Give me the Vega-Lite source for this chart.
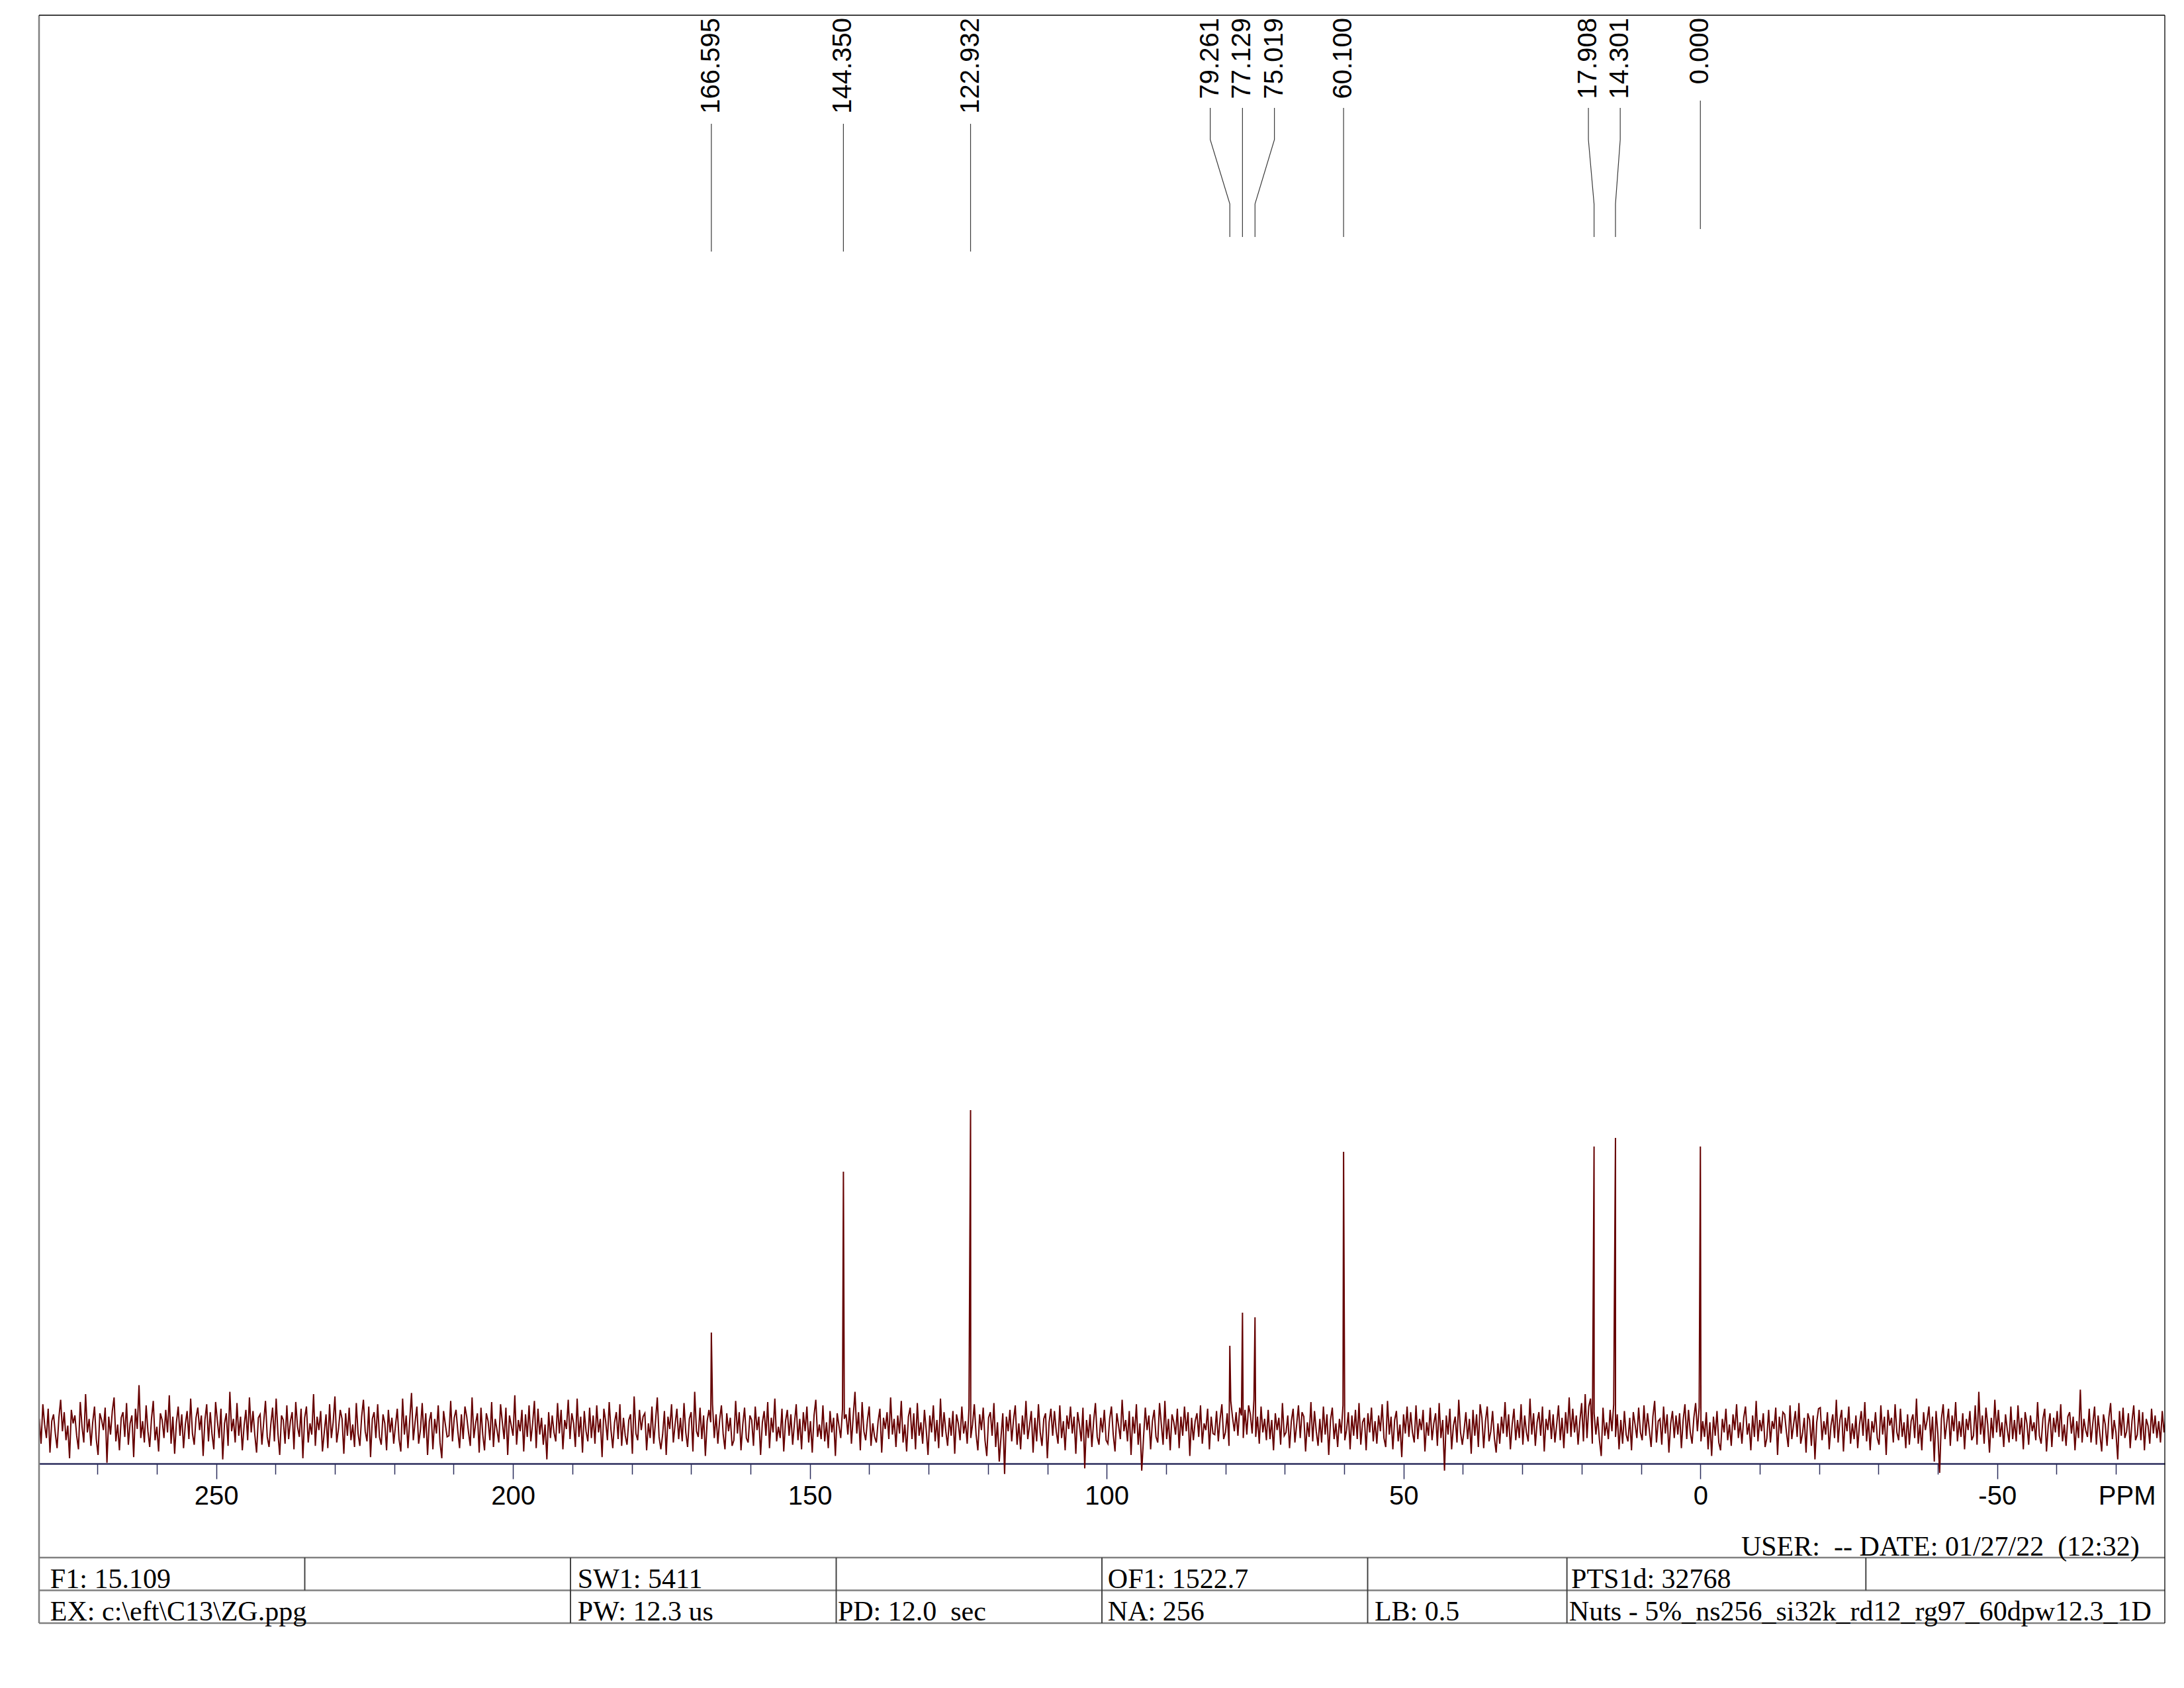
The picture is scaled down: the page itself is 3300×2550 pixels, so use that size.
{
"$schema":"https://vega.github.io/schema/vega-lite/v6.json",
"width":3212,"height":2429,
"autosize":{"type":"none"},
"padding":{"left":59,"top":23,"right":29,"bottom":98},
"background":"#ffffff",
"config":{"view":{"stroke":null}},
"datasets":{
"spec":[
{"x":279.8,"y":8},{"x":279.5,"y":-14},{"x":279.2,"y":21},{"x":278.9,"y":3},{"x":278.6,"y":-9},{"x":278.3,"y":17},{"x":278,"y":-22},{"x":277.7,"y":6},{"x":277.4,"y":12},{"x":277.1,"y":-5},
{"x":276.8,"y":-18},{"x":276.5,"y":9},{"x":276.2,"y":25},{"x":275.9,"y":-3},{"x":275.6,"y":14},{"x":275.3,"y":-11},{"x":275,"y":2},{"x":274.7,"y":-27},{"x":274.4,"y":16},{"x":274.1,"y":4},
{"x":273.8,"y":11},{"x":273.5,"y":-7},{"x":273.2,"y":-19},{"x":272.9,"y":23},{"x":272.6,"y":1},{"x":272.3,"y":-13},{"x":272,"y":30},{"x":271.7,"y":-4},{"x":271.4,"y":8},{"x":271.1,"y":-16},
{"x":270.8,"y":5},{"x":270.5,"y":19},{"x":270.2,"y":-10},{"x":269.9,"y":-24},{"x":269.6,"y":13},{"x":269.3,"y":7},{"x":269,"y":-2},{"x":268.7,"y":18},{"x":268.4,"y":-31},{"x":268.1,"y":10},
{"x":267.8,"y":-6},{"x":267.5,"y":15},{"x":267.2,"y":27},{"x":266.9,"y":-12},{"x":266.6,"y":3},{"x":266.3,"y":-20},{"x":266,"y":9},{"x":265.7,"y":14},{"x":265.4,"y":-8},{"x":265.1,"y":22},
{"x":264.8,"y":-15},{"x":264.5,"y":4},{"x":264.2,"y":11},{"x":263.9,"y":-26},{"x":263.6,"y":17},{"x":263.3,"y":-1},{"x":263,"y":38},{"x":262.7,"y":-9},{"x":262.4,"y":6},{"x":262.1,"y":-13},
{"x":261.8,"y":20},{"x":261.5,"y":-3},{"x":261.2,"y":-17},{"x":260.9,"y":8},{"x":260.6,"y":24},{"x":260.3,"y":-11},{"x":260,"y":1},{"x":259.7,"y":-21},{"x":259.4,"y":13},{"x":259.1,"y":7},
{"x":258.8,"y":-9},{"x":258.5,"y":16},{"x":258.2,"y":-4},{"x":257.9,"y":29},{"x":257.6,"y":-14},{"x":257.3,"y":10},{"x":257,"y":-23},{"x":256.7,"y":5},{"x":256.4,"y":19},{"x":256.1,"y":-7},
{"x":255.8,"y":12},{"x":255.5,"y":-18},{"x":255.2,"y":3},{"x":254.9,"y":15},{"x":254.6,"y":-10},{"x":254.3,"y":26},{"x":254,"y":-5},{"x":253.7,"y":-15},{"x":253.4,"y":9},{"x":253.1,"y":18},
{"x":252.8,"y":-2},{"x":252.5,"y":11},{"x":252.2,"y":-25},{"x":251.9,"y":7},{"x":251.6,"y":21},{"x":251.3,"y":-12},{"x":251,"y":14},{"x":250.7,"y":-6},{"x":250.4,"y":-19},{"x":250.1,"y":23},
{"x":249.8,"y":6},{"x":249.5,"y":-9},{"x":249.2,"y":17},{"x":248.9,"y":-28},{"x":248.6,"y":4},{"x":248.3,"y":13},{"x":248,"y":-16},{"x":247.7,"y":32},{"x":247.4,"y":-3},{"x":247.1,"y":8},
{"x":246.8,"y":-13},{"x":246.5,"y":22},{"x":246.2,"y":-7},{"x":245.9,"y":10},{"x":245.6,"y":-20},{"x":245.3,"y":2},{"x":245,"y":16},{"x":244.7,"y":-11},{"x":244.4,"y":27},{"x":244.1,"y":-4},
{"x":243.8,"y":15},{"x":243.5,"y":-6},{"x":243.2,"y":-22},{"x":242.9,"y":9},{"x":242.6,"y":12},{"x":242.3,"y":-15},{"x":242,"y":5},{"x":241.7,"y":24},{"x":241.4,"y":-8},{"x":241.1,"y":-17},
{"x":240.8,"y":3},{"x":240.5,"y":18},{"x":240.2,"y":-12},{"x":239.9,"y":26},{"x":239.6,"y":-5},{"x":239.3,"y":-24},{"x":239,"y":11},{"x":238.7,"y":7},{"x":238.4,"y":-14},{"x":238.1,"y":20},
{"x":237.8,"y":-10},{"x":237.5,"y":6},{"x":237.2,"y":14},{"x":236.9,"y":-19},{"x":236.6,"y":23},{"x":236.3,"y":1},{"x":236,"y":-8},{"x":235.7,"y":17},{"x":235.4,"y":-27},{"x":235.1,"y":9},
{"x":234.8,"y":19},{"x":234.5,"y":-13},{"x":234.2,"y":4},{"x":233.9,"y":-6},{"x":233.6,"y":30},{"x":233.3,"y":-16},{"x":233,"y":10},{"x":232.7,"y":-2},{"x":232.4,"y":15},{"x":232.1,"y":-21},
{"x":231.8,"y":-4},{"x":231.5,"y":12},{"x":231.2,"y":-18},{"x":230.9,"y":21},{"x":230.6,"y":-9},{"x":230.3,"y":5},{"x":230,"y":28},{"x":229.7,"y":-13},{"x":229.4,"y":-1},{"x":229.1,"y":16},
{"x":228.8,"y":8},{"x":228.5,"y":-23},{"x":228.2,"y":13},{"x":227.9,"y":-7},{"x":227.6,"y":18},{"x":227.3,"y":-11},{"x":227,"y":3},{"x":226.7,"y":-17},{"x":226.4,"y":22},{"x":226.1,"y":-5},
{"x":225.8,"y":-16},{"x":225.5,"y":10},{"x":225.2,"y":25},{"x":224.9,"y":-3},{"x":224.6,"y":-12},{"x":224.3,"y":19},{"x":224,"y":-26},{"x":223.7,"y":8},{"x":223.4,"y":14},{"x":223.1,"y":-9},
{"x":222.8,"y":21},{"x":222.5,"y":-8},{"x":222.2,"y":-15},{"x":221.9,"y":12},{"x":221.6,"y":4},{"x":221.3,"y":-20},{"x":221,"y":16},{"x":220.7,"y":-4},{"x":220.4,"y":9},{"x":220.1,"y":-14},
{"x":219.8,"y":2},{"x":219.5,"y":17},{"x":219.2,"y":-10},{"x":218.9,"y":-21},{"x":218.6,"y":26},{"x":218.3,"y":-6},{"x":218,"y":11},{"x":217.7,"y":-18},{"x":217.4,"y":7},{"x":217.1,"y":31},
{"x":216.8,"y":-11},{"x":216.5,"y":5},{"x":216.2,"y":19},{"x":215.9,"y":-14},{"x":215.6,"y":-2},{"x":215.3,"y":22},{"x":215,"y":-9},{"x":214.7,"y":13},{"x":214.4,"y":-24},{"x":214.1,"y":6},
{"x":213.8,"y":14},{"x":213.5,"y":-19},{"x":213.2,"y":8},{"x":212.9,"y":-5},{"x":212.6,"y":20},{"x":212.3,"y":-13},{"x":212,"y":-27},{"x":211.7,"y":15},{"x":211.4,"y":3},{"x":211.1,"y":-8},
{"x":210.8,"y":-7},{"x":210.5,"y":24},{"x":210.2,"y":-12},{"x":209.9,"y":9},{"x":209.6,"y":16},{"x":209.3,"y":-3},{"x":209,"y":-18},{"x":208.7,"y":12},{"x":208.4,"y":-10},{"x":208.1,"y":19},
{"x":207.8,"y":10},{"x":207.5,"y":-4},{"x":207.2,"y":-16},{"x":206.9,"y":27},{"x":206.6,"y":-9},{"x":206.3,"y":4},{"x":206,"y":13},{"x":205.7,"y":-22},{"x":205.4,"y":18},{"x":205.1,"y":-6},
{"x":204.8,"y":-20},{"x":204.5,"y":13},{"x":204.2,"y":6},{"x":203.9,"y":-11},{"x":203.6,"y":23},{"x":203.3,"y":-17},{"x":203,"y":8},{"x":202.7,"y":-2},{"x":202.4,"y":-13},{"x":202.1,"y":21},
{"x":201.8,"y":5},{"x":201.5,"y":-10},{"x":201.2,"y":18},{"x":200.9,"y":-24},{"x":200.6,"y":11},{"x":200.3,"y":2},{"x":200,"y":-7},{"x":199.7,"y":29},{"x":199.4,"y":-15},{"x":199.1,"y":7},
{"x":198.8,"y":-3},{"x":198.5,"y":16},{"x":198.2,"y":-21},{"x":197.9,"y":12},{"x":197.6,"y":-8},{"x":197.3,"y":20},{"x":197,"y":-12},{"x":196.7,"y":4},{"x":196.4,"y":24},{"x":196.1,"y":-18},
{"x":195.8,"y":17},{"x":195.5,"y":-6},{"x":195.2,"y":9},{"x":194.9,"y":-15},{"x":194.6,"y":3},{"x":194.3,"y":-28},{"x":194,"y":14},{"x":193.7,"y":-9},{"x":193.4,"y":11},{"x":193.1,"y":-4},
{"x":192.8,"y":-12},{"x":192.5,"y":22},{"x":192.2,"y":-5},{"x":191.9,"y":16},{"x":191.6,"y":-19},{"x":191.3,"y":7},{"x":191,"y":-1},{"x":190.7,"y":25},{"x":190.4,"y":-10},{"x":190.1,"y":13},
{"x":189.8,"y":4},{"x":189.5,"y":-17},{"x":189.2,"y":26},{"x":188.9,"y":-8},{"x":188.6,"y":10},{"x":188.3,"y":-22},{"x":188,"y":15},{"x":187.7,"y":-3},{"x":187.4,"y":-12},{"x":187.1,"y":18},
{"x":186.8,"y":-9},{"x":186.5,"y":11},{"x":186.2,"y":-14},{"x":185.9,"y":20},{"x":185.6,"y":-4},{"x":185.3,"y":8},{"x":185,"y":-26},{"x":184.7,"y":17},{"x":184.4,"y":6},{"x":184.1,"y":-11},
{"x":183.8,"y":23},{"x":183.5,"y":-2},{"x":183.2,"y":-18},{"x":182.9,"y":5},{"x":182.6,"y":14},{"x":182.3,"y":-10},{"x":182,"y":21},{"x":181.7,"y":-16},{"x":181.4,"y":9},{"x":181.1,"y":-7},
{"x":180.8,"y":-15},{"x":180.5,"y":7},{"x":180.2,"y":12},{"x":179.9,"y":-23},{"x":179.6,"y":28},{"x":179.3,"y":-5},{"x":179,"y":-11},{"x":178.7,"y":16},{"x":178.4,"y":-2},{"x":178.1,"y":10},
{"x":177.8,"y":13},{"x":177.5,"y":-20},{"x":177.2,"y":4},{"x":176.9,"y":-9},{"x":176.6,"y":19},{"x":176.3,"y":-14},{"x":176,"y":6},{"x":175.7,"y":27},{"x":175.4,"y":-8},{"x":175.1,"y":-19},
{"x":174.8,"y":-6},{"x":174.5,"y":15},{"x":174.2,"y":-24},{"x":173.9,"y":10},{"x":173.6,"y":-1},{"x":173.3,"y":21},{"x":173,"y":-13},{"x":172.7,"y":3},{"x":172.4,"y":17},{"x":172.1,"y":-10},
{"x":171.8,"y":9},{"x":171.5,"y":-12},{"x":171.2,"y":22},{"x":170.9,"y":-4},{"x":170.6,"y":-17},{"x":170.3,"y":8},{"x":170,"y":14},{"x":169.7,"y":-21},{"x":169.4,"y":32},{"x":169.1,"y":-3},
{"x":168.8,"y":-8},{"x":168.5,"y":18},{"x":168.2,"y":-10},{"x":167.9,"y":11},{"x":167.6,"y":-25},{"x":167.3,"y":6},{"x":167,"y":16},{"x":166.7,"y":5},{"x":166.4,"y":21},{"x":166.1,"y":-9},
{"x":165.8,"y":12},{"x":165.5,"y":-14},{"x":165.2,"y":7},{"x":164.9,"y":20},{"x":164.6,"y":-6},{"x":164.3,"y":-19},{"x":164,"y":13},{"x":163.7,"y":-3},{"x":163.4,"y":9},{"x":163.1,"y":-16},
{"x":162.8,"y":-11},{"x":162.5,"y":24},{"x":162.2,"y":-5},{"x":161.9,"y":14},{"x":161.6,"y":-20},{"x":161.3,"y":3},{"x":161,"y":18},{"x":160.7,"y":-9},{"x":160.4,"y":-13},{"x":160.1,"y":11},
{"x":159.8,"y":7},{"x":159.5,"y":-16},{"x":159.2,"y":19},{"x":158.9,"y":-2},{"x":158.6,"y":10},{"x":158.3,"y":-24},{"x":158,"y":5},{"x":157.7,"y":15},{"x":157.4,"y":-7},{"x":157.1,"y":23},
{"x":156.8,"y":-18},{"x":156.5,"y":9},{"x":156.2,"y":-4},{"x":155.9,"y":26},{"x":155.6,"y":-12},{"x":155.3,"y":1},{"x":155,"y":-9},{"x":154.7,"y":17},{"x":154.4,"y":-21},{"x":154.1,"y":6},
{"x":153.8,"y":16},{"x":153.5,"y":-7},{"x":153.2,"y":12},{"x":152.9,"y":-15},{"x":152.6,"y":4},{"x":152.3,"y":21},{"x":152,"y":-11},{"x":151.7,"y":8},{"x":151.4,"y":-19},{"x":151.1,"y":14},
{"x":150.8,"y":-3},{"x":150.5,"y":19},{"x":150.2,"y":-13},{"x":149.9,"y":6},{"x":149.6,"y":-22},{"x":149.3,"y":11},{"x":149,"y":25},{"x":148.7,"y":-8},{"x":148.4,"y":3},{"x":148.1,"y":-10},
{"x":147.8,"y":20},{"x":147.5,"y":-12},{"x":147.2,"y":5},{"x":146.9,"y":-18},{"x":146.6,"y":15},{"x":146.3,"y":-4},{"x":146,"y":9},{"x":145.7,"y":-25},{"x":145.4,"y":13},{"x":145.1,"y":2},
{"x":144.8,"y":-9},{"x":144.5,"y":17},{"x":144.2,"y":8},{"x":143.9,"y":12},{"x":143.6,"y":-6},{"x":143.3,"y":18},{"x":143,"y":-14},{"x":142.7,"y":10},{"x":142.4,"y":32},{"x":142.1,"y":-5},
{"x":141.8,"y":14},{"x":141.5,"y":-20},{"x":141.2,"y":23},{"x":140.9,"y":-3},{"x":140.6,"y":-11},{"x":140.3,"y":7},{"x":140,"y":19},{"x":139.7,"y":-16},{"x":139.4,"y":4},{"x":139.1,"y":-8},
{"x":138.8,"y":-13},{"x":138.5,"y":6},{"x":138.2,"y":17},{"x":137.9,"y":-22},{"x":137.6,"y":9},{"x":137.3,"y":-1},{"x":137,"y":14},{"x":136.7,"y":-10},{"x":136.4,"y":27},{"x":136.1,"y":-6},
{"x":135.8,"y":8},{"x":135.5,"y":-17},{"x":135.2,"y":11},{"x":134.9,"y":-5},{"x":134.6,"y":24},{"x":134.3,"y":-13},{"x":134,"y":3},{"x":133.7,"y":-21},{"x":133.4,"y":10},{"x":133.1,"y":18},
{"x":132.8,"y":-10},{"x":132.5,"y":13},{"x":132.2,"y":-19},{"x":131.9,"y":22},{"x":131.6,"y":-7},{"x":131.3,"y":5},{"x":131,"y":-14},{"x":130.7,"y":16},{"x":130.4,"y":-2},{"x":130.1,"y":-24},
{"x":129.8,"y":11},{"x":129.5,"y":-4},{"x":129.2,"y":20},{"x":128.9,"y":-12},{"x":128.6,"y":7},{"x":128.3,"y":-18},{"x":128,"y":26},{"x":127.7,"y":-8},{"x":127.4,"y":14},{"x":127.1,"y":-3},
{"x":126.8,"y":-16},{"x":126.5,"y":9},{"x":126.2,"y":-7},{"x":125.9,"y":15},{"x":125.6,"y":-23},{"x":125.3,"y":12},{"x":125,"y":4},{"x":124.7,"y":-11},{"x":124.4,"y":19},{"x":124.1,"y":-5},
{"x":123.8,"y":6},{"x":123.5,"y":-14},{"x":123.2,"y":17},{"x":122.9,"y":-9},{"x":122.6,"y":3},{"x":122.3,"y":21},{"x":122,"y":-6},{"x":121.7,"y":-20},{"x":121.4,"y":12},{"x":121.1,"y":-2},
{"x":120.8,"y":18},{"x":120.5,"y":-11},{"x":120.2,"y":-25},{"x":119.9,"y":9},{"x":119.6,"y":14},{"x":119.3,"y":-7},{"x":119,"y":22},{"x":118.7,"y":-17},{"x":118.4,"y":5},{"x":118.1,"y":-30},
{"x":117.8,"y":-8},{"x":117.5,"y":13},{"x":117.2,"y":-41},{"x":116.9,"y":10},{"x":116.6,"y":-3},{"x":116.3,"y":16},{"x":116,"y":-12},{"x":115.7,"y":7},{"x":115.4,"y":20},{"x":115.1,"y":-15},
{"x":114.8,"y":4},{"x":114.5,"y":-19},{"x":114.2,"y":11},{"x":113.9,"y":-6},{"x":113.6,"y":24},{"x":113.3,"y":-10},{"x":113,"y":2},{"x":112.7,"y":15},{"x":112.4,"y":-22},{"x":112.1,"y":9},
{"x":111.8,"y":-12},{"x":111.5,"y":21},{"x":111.2,"y":-4},{"x":110.9,"y":-16},{"x":110.6,"y":8},{"x":110.3,"y":13},{"x":110,"y":-27},{"x":109.7,"y":5},{"x":109.4,"y":17},{"x":109.1,"y":-7},
{"x":108.8,"y":15},{"x":108.5,"y":-3},{"x":108.2,"y":-14},{"x":107.9,"y":20},{"x":107.6,"y":-9},{"x":107.3,"y":6},{"x":107,"y":-20},{"x":106.7,"y":11},{"x":106.4,"y":-1},{"x":106.1,"y":19},
{"x":105.8,"y":-5},{"x":105.5,"y":10},{"x":105.2,"y":-23},{"x":104.9,"y":14},{"x":104.6,"y":3},{"x":104.3,"y":-12},{"x":104,"y":18},{"x":103.7,"y":-36},{"x":103.4,"y":7},{"x":103.1,"y":-9},
{"x":102.8,"y":12},{"x":102.5,"y":-17},{"x":102.2,"y":6},{"x":101.9,"y":22},{"x":101.6,"y":-8},{"x":101.3,"y":-15},{"x":101,"y":9},{"x":100.7,"y":-4},{"x":100.4,"y":16},{"x":100.1,"y":-11},
{"x":99.8,"y":-14},{"x":99.5,"y":8},{"x":99.2,"y":19},{"x":98.9,"y":-6},{"x":98.6,"y":-21},{"x":98.3,"y":13},{"x":98,"y":2},{"x":97.7,"y":-10},{"x":97.4,"y":25},{"x":97.1,"y":-3},
{"x":96.8,"y":7},{"x":96.5,"y":-12},{"x":96.2,"y":15},{"x":95.9,"y":-24},{"x":95.6,"y":10},{"x":95.3,"y":-5},{"x":95,"y":21},{"x":94.7,"y":-15},{"x":94.4,"y":4},{"x":94.1,"y":-38},
{"x":93.8,"y":-9},{"x":93.5,"y":18},{"x":93.2,"y":-2},{"x":92.9,"y":11},{"x":92.6,"y":-19},{"x":92.3,"y":6},{"x":92,"y":16},{"x":91.7,"y":-8},{"x":91.4,"y":-13},{"x":91.1,"y":22},
{"x":90.8,"y":3},{"x":90.5,"y":-15},{"x":90.2,"y":24},{"x":89.9,"y":-10},{"x":89.6,"y":8},{"x":89.3,"y":-20},{"x":89,"y":12},{"x":88.7,"y":5},{"x":88.4,"y":-6},{"x":88.1,"y":17},
{"x":87.8,"y":-18},{"x":87.5,"y":10},{"x":87.2,"y":-7},{"x":86.9,"y":19},{"x":86.6,"y":-3},{"x":86.3,"y":14},{"x":86,"y":-25},{"x":85.7,"y":9},{"x":85.4,"y":-11},{"x":85.1,"y":6},
{"x":84.8,"y":13},{"x":84.5,"y":-8},{"x":84.2,"y":20},{"x":83.9,"y":-14},{"x":83.6,"y":4},{"x":83.3,"y":-2},{"x":83,"y":17},{"x":82.7,"y":-19},{"x":82.4,"y":10},{"x":82.1,"y":-5},
{"x":81.8,"y":-6},{"x":81.5,"y":15},{"x":81.2,"y":-12},{"x":80.9,"y":8},{"x":80.6,"y":21},{"x":80.3,"y":-10},{"x":80,"y":-4},{"x":79.7,"y":13},{"x":79.4,"y":-16},{"x":79.1,"y":24},
{"x":78.8,"y":9},{"x":78.5,"y":-3},{"x":78.2,"y":14},{"x":77.9,"y":-7},{"x":77.6,"y":18},{"x":77.3,"y":11},{"x":77,"y":-9},{"x":76.7,"y":16},{"x":76.4,"y":-6},{"x":76.1,"y":20},
{"x":75.8,"y":12},{"x":75.5,"y":-5},{"x":75.2,"y":25},{"x":74.9,"y":-8},{"x":74.6,"y":10},{"x":74.3,"y":-14},{"x":74,"y":19},{"x":73.7,"y":-4},{"x":73.4,"y":8},{"x":73.1,"y":-11},
{"x":72.8,"y":16},{"x":72.5,"y":-10},{"x":72.2,"y":7},{"x":71.9,"y":-20},{"x":71.6,"y":13},{"x":71.3,"y":-2},{"x":71,"y":9},{"x":70.7,"y":-15},{"x":70.4,"y":22},{"x":70.1,"y":-7},
{"x":69.8,"y":-4},{"x":69.5,"y":11},{"x":69.2,"y":-18},{"x":68.9,"y":6},{"x":68.6,"y":17},{"x":68.3,"y":-13},{"x":68,"y":3},{"x":67.7,"y":20},{"x":67.4,"y":-9},{"x":67.1,"y":14},
{"x":66.8,"y":10},{"x":66.5,"y":-21},{"x":66.2,"y":5},{"x":65.9,"y":-8},{"x":65.6,"y":23},{"x":65.3,"y":-12},{"x":65,"y":15},{"x":64.7,"y":-3},{"x":64.4,"y":-16},{"x":64.1,"y":8},
{"x":63.8,"y":-13},{"x":63.5,"y":19},{"x":63.2,"y":-6},{"x":62.9,"y":12},{"x":62.6,"y":-24},{"x":62.3,"y":7},{"x":62,"y":18},{"x":61.7,"y":-10},{"x":61.4,"y":4},{"x":61.1,"y":-17},
{"x":60.8,"y":8},{"x":60.5,"y":-5},{"x":60.2,"y":20},{"x":59.9,"y":-11},{"x":59.6,"y":-2},{"x":59.3,"y":14},{"x":59,"y":-19},{"x":58.7,"y":11},{"x":58.4,"y":-7},{"x":58.1,"y":16},
{"x":57.8,"y":-10},{"x":57.5,"y":22},{"x":57.2,"y":-15},{"x":56.9,"y":5},{"x":56.6,"y":9},{"x":56.3,"y":-20},{"x":56,"y":13},{"x":55.7,"y":-4},{"x":55.4,"y":18},{"x":55.1,"y":-12},
{"x":54.8,"y":6},{"x":54.5,"y":-14},{"x":54.2,"y":11},{"x":53.9,"y":-3},{"x":53.6,"y":21},{"x":53.3,"y":-9},{"x":53,"y":-17},{"x":52.7,"y":24},{"x":52.4,"y":-6},{"x":52.1,"y":10},
{"x":51.8,"y":-19},{"x":51.5,"y":7},{"x":51.2,"y":15},{"x":50.9,"y":-12},{"x":50.6,"y":3},{"x":50.3,"y":-26},{"x":50,"y":12},{"x":49.7,"y":-5},{"x":49.4,"y":19},{"x":49.1,"y":-8},
{"x":48.8,"y":14},{"x":48.5,"y":-4},{"x":48.2,"y":-13},{"x":47.9,"y":20},{"x":47.6,"y":-10},{"x":47.3,"y":8},{"x":47,"y":-2},{"x":46.7,"y":16},{"x":46.4,"y":-21},{"x":46.1,"y":5},
{"x":45.8,"y":-7},{"x":45.5,"y":18},{"x":45.2,"y":-11},{"x":44.9,"y":4},{"x":44.6,"y":13},{"x":44.3,"y":-16},{"x":44,"y":22},{"x":43.7,"y":-9},{"x":43.4,"y":7},{"x":43.1,"y":-38},
{"x":42.8,"y":11},{"x":42.5,"y":-6},{"x":42.2,"y":17},{"x":41.9,"y":-19},{"x":41.6,"y":2},{"x":41.3,"y":10},{"x":41,"y":-13},{"x":40.7,"y":25},{"x":40.4,"y":-4},{"x":40.1,"y":-15},
{"x":39.8,"y":-2},{"x":39.5,"y":14},{"x":39.2,"y":-10},{"x":38.9,"y":8},{"x":38.6,"y":-23},{"x":38.3,"y":16},{"x":38,"y":-7},{"x":37.7,"y":12},{"x":37.4,"y":-17},{"x":37.1,"y":21},
{"x":36.8,"y":9},{"x":36.5,"y":-18},{"x":36.2,"y":6},{"x":35.9,"y":19},{"x":35.6,"y":-12},{"x":35.3,"y":-3},{"x":35,"y":15},{"x":34.7,"y":-9},{"x":34.4,"y":-22},{"x":34.1,"y":4},
{"x":33.8,"y":-14},{"x":33.5,"y":10},{"x":33.2,"y":-5},{"x":32.9,"y":23},{"x":32.6,"y":-8},{"x":32.3,"y":12},{"x":32,"y":-19},{"x":31.7,"y":3},{"x":31.4,"y":17},{"x":31.1,"y":-11},
{"x":30.8,"y":7},{"x":30.5,"y":-9},{"x":30.2,"y":21},{"x":29.9,"y":-15},{"x":29.6,"y":11},{"x":29.3,"y":-4},{"x":29,"y":-12},{"x":28.7,"y":26},{"x":28.4,"y":-6},{"x":28.1,"y":13},
{"x":27.8,"y":-16},{"x":27.5,"y":5},{"x":27.2,"y":14},{"x":26.9,"y":-7},{"x":26.6,"y":19},{"x":26.3,"y":-21},{"x":26,"y":8},{"x":25.7,"y":-2},{"x":25.4,"y":16},{"x":25.1,"y":-10},
{"x":24.8,"y":12},{"x":24.5,"y":-13},{"x":24.2,"y":3},{"x":23.9,"y":20},{"x":23.6,"y":-11},{"x":23.3,"y":9},{"x":23,"y":-18},{"x":22.7,"y":14},{"x":22.4,"y":-5},{"x":22.1,"y":27},
{"x":21.8,"y":-8},{"x":21.5,"y":17},{"x":21.2,"y":-4},{"x":20.9,"y":11},{"x":20.6,"y":-15},{"x":20.3,"y":6},{"x":20,"y":22},{"x":19.7,"y":-12},{"x":19.4,"y":30},{"x":19.1,"y":-9},
{"x":18.8,"y":19},{"x":18.5,"y":26},{"x":18.2,"y":-14},{"x":17.9,"y":13},{"x":17.6,"y":-6},{"x":17.3,"y":10},{"x":17,"y":-11},{"x":16.7,"y":-25},{"x":16.4,"y":18},{"x":16.1,"y":-7},
{"x":15.8,"y":5},{"x":15.5,"y":-10},{"x":15.2,"y":16},{"x":14.9,"y":-3},{"x":14.6,"y":21},{"x":14.3,"y":-8},{"x":14,"y":12},{"x":13.7,"y":-19},{"x":13.4,"y":7},{"x":13.1,"y":-14},
{"x":12.8,"y":15},{"x":12.5,"y":-6},{"x":12.2,"y":-12},{"x":11.9,"y":9},{"x":11.6,"y":-20},{"x":11.3,"y":14},{"x":11,"y":3},{"x":10.7,"y":-9},{"x":10.4,"y":18},{"x":10.1,"y":-4},
{"x":9.8,"y":-11},{"x":9.5,"y":20},{"x":9.2,"y":-7},{"x":8.9,"y":13},{"x":8.6,"y":-2},{"x":8.3,"y":-17},{"x":8,"y":10},{"x":7.7,"y":24},{"x":7.4,"y":-13},{"x":7.1,"y":6},
{"x":6.8,"y":8},{"x":6.5,"y":-15},{"x":6.2,"y":19},{"x":5.9,"y":-5},{"x":5.6,"y":12},{"x":5.3,"y":-22},{"x":5,"y":4},{"x":4.7,"y":15},{"x":4.4,"y":-9},{"x":4.1,"y":11},
{"x":3.8,"y":-6},{"x":3.5,"y":13},{"x":3.2,"y":-18},{"x":2.9,"y":7},{"x":2.6,"y":21},{"x":2.3,"y":-10},{"x":2,"y":16},{"x":1.7,"y":-4},{"x":1.4,"y":-14},{"x":1.1,"y":9},
{"x":0.8,"y":22},{"x":0.5,"y":-3},{"x":0.2,"y":18},{"x":-0.1,"y":-12},{"x":-0.4,"y":6},{"x":-0.7,"y":-8},{"x":-1,"y":14},{"x":-1.3,"y":-19},{"x":-1.6,"y":5},{"x":-1.9,"y":-25},
{"x":-2.2,"y":10},{"x":-2.5,"y":-7},{"x":-2.8,"y":15},{"x":-3.1,"y":-13},{"x":-3.4,"y":-20},{"x":-3.7,"y":8},{"x":-4,"y":-4},{"x":-4.3,"y":17},{"x":-4.6,"y":-11},{"x":-4.9,"y":3},
{"x":-5.2,"y":-16},{"x":-5.5,"y":12},{"x":-5.8,"y":-2},{"x":-6.1,"y":21},{"x":-6.4,"y":-9},{"x":-6.7,"y":5},{"x":-7,"y":-14},{"x":-7.3,"y":9},{"x":-7.6,"y":19},{"x":-7.9,"y":-6},
{"x":-8.2,"y":4},{"x":-8.5,"y":-20},{"x":-8.8,"y":11},{"x":-9.1,"y":-8},{"x":-9.4,"y":24},{"x":-9.7,"y":-12},{"x":-10,"y":7},{"x":-10.3,"y":-3},{"x":-10.6,"y":13},{"x":-10.9,"y":-17},
{"x":-11.2,"y":-9},{"x":-11.5,"y":16},{"x":-11.8,"y":-13},{"x":-12.1,"y":6},{"x":-12.4,"y":-1},{"x":-12.7,"y":18},{"x":-13,"y":-24},{"x":-13.3,"y":10},{"x":-13.6,"y":-5},{"x":-13.9,"y":14},
{"x":-14.2,"y":12},{"x":-14.5,"y":-4},{"x":-14.8,"y":-17},{"x":-15.1,"y":20},{"x":-15.4,"y":-10},{"x":-15.7,"y":3},{"x":-16,"y":15},{"x":-16.3,"y":-8},{"x":-16.6,"y":22},{"x":-16.9,"y":-14},
{"x":-17.2,"y":-5},{"x":-17.5,"y":9},{"x":-17.8,"y":-22},{"x":-18.1,"y":13},{"x":-18.4,"y":7},{"x":-18.7,"y":-16},{"x":-19,"y":11},{"x":-19.3,"y":-28},{"x":-19.6,"y":5},{"x":-19.9,"y":17},
{"x":-20.2,"y":18},{"x":-20.5,"y":-11},{"x":-20.8,"y":6},{"x":-21.1,"y":-6},{"x":-21.4,"y":14},{"x":-21.7,"y":-19},{"x":-22,"y":2},{"x":-22.3,"y":12},{"x":-22.6,"y":-9},{"x":-22.9,"y":25},
{"x":-23.2,"y":-13},{"x":-23.5,"y":7},{"x":-23.8,"y":16},{"x":-24.1,"y":-21},{"x":-24.4,"y":9},{"x":-24.7,"y":-3},{"x":-25,"y":19},{"x":-25.3,"y":-14},{"x":-25.6,"y":4},{"x":-25.9,"y":-10},
{"x":-26.2,"y":11},{"x":-26.5,"y":-18},{"x":-26.8,"y":3},{"x":-27.1,"y":15},{"x":-27.4,"y":-7},{"x":-27.7,"y":23},{"x":-28,"y":-12},{"x":-28.3,"y":8},{"x":-28.6,"y":-20},{"x":-28.9,"y":6},
{"x":-29.2,"y":-4},{"x":-29.5,"y":14},{"x":-29.8,"y":-9},{"x":-30.1,"y":-15},{"x":-30.4,"y":20},{"x":-30.7,"y":-6},{"x":-31,"y":10},{"x":-31.3,"y":-24},{"x":-31.6,"y":16},{"x":-31.9,"y":2},
{"x":-32.2,"y":9},{"x":-32.5,"y":-13},{"x":-32.8,"y":21},{"x":-33.1,"y":-4},{"x":-33.4,"y":-11},{"x":-33.7,"y":17},{"x":-34,"y":-8},{"x":-34.3,"y":5},{"x":-34.6,"y":-18},{"x":-34.9,"y":12},
{"x":-35.2,"y":-15},{"x":-35.5,"y":6},{"x":-35.8,"y":12},{"x":-36.1,"y":-9},{"x":-36.4,"y":26},{"x":-36.7,"y":-14},{"x":-37,"y":3},{"x":-37.3,"y":-20},{"x":-37.6,"y":14},{"x":-37.9,"y":-2},
{"x":-38.2,"y":7},{"x":-38.5,"y":19},{"x":-38.8,"y":-12},{"x":-39.1,"y":10},{"x":-39.4,"y":-30},{"x":-39.7,"y":15},{"x":-40,"y":-5},{"x":-40.3,"y":-40},{"x":-40.6,"y":8},{"x":-40.9,"y":21},
{"x":-41.2,"y":-10},{"x":-41.5,"y":4},{"x":-41.8,"y":17},{"x":-42.1,"y":-16},{"x":-42.4,"y":11},{"x":-42.7,"y":-3},{"x":-43,"y":23},{"x":-43.3,"y":-12},{"x":-43.6,"y":6},{"x":-43.9,"y":-8},
{"x":-44.2,"y":13},{"x":-44.5,"y":-19},{"x":-44.8,"y":8},{"x":-45.1,"y":-2},{"x":-45.4,"y":15},{"x":-45.7,"y":-11},{"x":-46,"y":-7},{"x":-46.3,"y":20},{"x":-46.6,"y":-15},{"x":-46.9,"y":32},
{"x":-47.2,"y":-6},{"x":-47.5,"y":11},{"x":-47.8,"y":-14},{"x":-48.1,"y":18},{"x":-48.4,"y":3},{"x":-48.7,"y":-22},{"x":-49,"y":9},{"x":-49.3,"y":-9},{"x":-49.6,"y":25},{"x":-49.9,"y":-4},
{"x":-50.2,"y":16},{"x":-50.5,"y":-8},{"x":-50.8,"y":5},{"x":-51.1,"y":-17},{"x":-51.4,"y":12},{"x":-51.7,"y":-2},{"x":-52,"y":-13},{"x":-52.3,"y":19},{"x":-52.6,"y":-10},{"x":-52.9,"y":7},
{"x":-53.2,"y":-12},{"x":-53.5,"y":20},{"x":-53.8,"y":-6},{"x":-54.1,"y":9},{"x":-54.4,"y":-19},{"x":-54.7,"y":14},{"x":-55,"y":4},{"x":-55.3,"y":-15},{"x":-55.6,"y":11},{"x":-55.9,"y":-3},
{"x":-56.2,"y":5},{"x":-56.5,"y":-11},{"x":-56.8,"y":23},{"x":-57.1,"y":-7},{"x":-57.4,"y":-14},{"x":-57.7,"y":8},{"x":-58,"y":17},{"x":-58.3,"y":-21},{"x":-58.6,"y":2},{"x":-58.9,"y":13},
{"x":-59.2,"y":-17},{"x":-59.5,"y":9},{"x":-59.8,"y":-4},{"x":-60.1,"y":15},{"x":-60.4,"y":-8},{"x":-60.7,"y":21},{"x":-61,"y":-12},{"x":-61.3,"y":3},{"x":-61.6,"y":-16},{"x":-61.9,"y":10},
{"x":-62.2,"y":14},{"x":-62.5,"y":-5},{"x":-62.8,"y":10},{"x":-63.1,"y":-20},{"x":-63.4,"y":6},{"x":-63.7,"y":-9},{"x":-64,"y":34},{"x":-64.3,"y":-13},{"x":-64.6,"y":8},{"x":-64.9,"y":-2},
{"x":-65.2,"y":-8},{"x":-65.5,"y":17},{"x":-65.8,"y":-13},{"x":-66.1,"y":4},{"x":-66.4,"y":19},{"x":-66.7,"y":-15},{"x":-67,"y":11},{"x":-67.3,"y":-6},{"x":-67.6,"y":-21},{"x":-67.9,"y":12},
{"x":-68.2,"y":3},{"x":-68.5,"y":-16},{"x":-68.8,"y":9},{"x":-69.1,"y":22},{"x":-69.4,"y":-10},{"x":-69.7,"y":7},{"x":-70,"y":-4},{"x":-70.3,"y":-28},{"x":-70.6,"y":15},{"x":-70.9,"y":-7},
{"x":-71.2,"y":18},{"x":-71.5,"y":-9},{"x":-71.8,"y":-3},{"x":-72.1,"y":13},{"x":-72.4,"y":-18},{"x":-72.7,"y":6},{"x":-73,"y":20},{"x":-73.3,"y":-11},{"x":-73.6,"y":-6},{"x":-73.9,"y":16},
{"x":-74.2,"y":-11},{"x":-74.5,"y":14},{"x":-74.8,"y":-20},{"x":-75.1,"y":8},{"x":-75.4,"y":2},{"x":-75.7,"y":-14},{"x":-76,"y":17},{"x":-76.3,"y":-5},{"x":-76.6,"y":11},{"x":-76.9,"y":-9},
{"x":-77.2,"y":6},{"x":-77.5,"y":-13},{"x":-77.8,"y":15},{"x":-78.1,"y":-4},{"x":-78.4,"y":9},
{"x":166.595,"y":84.7},{"x":144.35,"y":227.6},{"x":122.932,"y":282.4},{"x":79.261,"y":72.9},{"x":77.129,"y":102.4},{"x":75.019,"y":98.2},{"x":60.1,"y":245.3},{"x":17.908,"y":250},{"x":14.301,"y":257.6},{"x":0,"y":250}
],
"labels":[
{"t":"166.595","lp":166.595},{"t":"144.350","lp":144.35},{"t":"122.932","lp":122.932},{"t":"79.261","lp":82.56},{"t":"77.129","lp":77.129},{"t":"75.019","lp":71.75},{"t":"60.100","lp":60.1},{"t":"17.908","lp":18.86},{"t":"14.301","lp":13.5},{"t":"0.000","lp":0}
],
"leaders":[
{"t":"166.595","k":0,"x":166.595,"y":1158.8},{"t":"166.595","k":1,"x":166.595,"y":1045.3},
{"t":"144.350","k":0,"x":144.35,"y":1158.8},{"t":"144.350","k":1,"x":144.35,"y":1045.3},
{"t":"122.932","k":0,"x":122.932,"y":1158.8},{"t":"122.932","k":1,"x":122.932,"y":1045.3},
{"t":"79.261","k":0,"x":82.56,"y":1172.9},{"t":"79.261","k":1,"x":82.56,"y":1144.7},{"t":"79.261","k":2,"x":79.261,"y":1087.6},{"t":"79.261","k":3,"x":79.261,"y":1058.2},
{"t":"77.129","k":0,"x":77.129,"y":1172.9},{"t":"77.129","k":1,"x":77.129,"y":1058.2},
{"t":"75.019","k":0,"x":71.75,"y":1172.9},{"t":"75.019","k":1,"x":71.75,"y":1144.7},{"t":"75.019","k":2,"x":75.019,"y":1087.6},{"t":"75.019","k":3,"x":75.019,"y":1058.2},
{"t":"60.100","k":0,"x":60.1,"y":1172.9},{"t":"60.100","k":1,"x":60.1,"y":1058.2},
{"t":"17.908","k":0,"x":18.86,"y":1172.9},{"t":"17.908","k":1,"x":18.86,"y":1144.7},{"t":"17.908","k":2,"x":17.908,"y":1087.6},{"t":"17.908","k":3,"x":17.908,"y":1058.2},
{"t":"14.301","k":0,"x":13.5,"y":1172.9},{"t":"14.301","k":1,"x":13.5,"y":1144.7},{"t":"14.301","k":2,"x":14.301,"y":1087.6},{"t":"14.301","k":3,"x":14.301,"y":1058.2},
{"t":"0.000","k":0,"x":0,"y":1179.4},{"t":"0.000","k":1,"x":0,"y":1065.3}
],
"tlines":[
{"p":"rule","c1":0,"c2":8,"r1":0,"r2":0},{"p":"rule","c1":0,"c2":8,"r1":1,"r2":1},{"p":"rule","c1":0,"c2":8,"r1":2,"r2":2},{"p":"rule","c1":0,"c2":0,"r1":-47.07,"r2":2},
{"p":"div","c1":1,"c2":1,"r1":0,"r2":1},{"p":"div","c1":2,"c2":2,"r1":0,"r2":2},{"p":"div","c1":3,"c2":3,"r1":0,"r2":2},{"p":"div","c1":4,"c2":4,"r1":0,"r2":2},{"p":"div","c1":5,"c2":5,"r1":0,"r2":2},{"p":"div","c1":5.75,"c2":5.75,"r1":0,"r2":2},{"p":"div","c1":6.875,"c2":6.875,"r1":0,"r2":1},
{"p":"frame","c1":0,"c2":8,"r1":-47.07,"r2":-47.07},{"p":"frame","c1":8,"c2":8,"r1":-47.07,"r2":2}
],
"ttext":[
{"s":"F1: 15.109","c":0.042,"r":0.93},{"s":"SW1: 5411","c":2.027,"r":0.93},{"s":"OF1: 1522.7","c":4.022,"r":0.93},{"s":"PTS1d: 32768","c":5.766,"r":0.93},
{"s":"EX: c:\\eft\\C13\\ZG.ppg","c":0.042,"r":1.91},{"s":"PW: 12.3 us","c":2.027,"r":1.91},{"s":"PD: 12.0\u00a0 sec","c":3.006,"r":1.91},{"s":"NA: 256","c":4.022,"r":1.91},{"s":"LB: 0.5","c":5.026,"r":1.91},{"s":"Nuts - 5%_ns256_si32k_rd12_rg97_60dpw12.3_1D","c":5.758,"r":1.91}
]
},
"layer":[
{"layer":[
 {"data":{"name":"spec"},
  "mark":{"type":"line","color":"#660000","strokeWidth":2,"clip":true},
  "encoding":{
   "x":{"field":"x","type":"quantitative","scale":{"domain":[-78.23,279.84],"reverse":true,"nice":false,"zero":false},
    "axis":{"orient":"bottom","values":[250,200,150,100,50,0,-50],"labelExpr":"datum.value + ''","offset":-241,"tickSize":23,"tickWidth":1.5,"tickColor":"#2b2d5c","domainColor":"#2b2d5c","domainWidth":2.5,"labelFont":"Liberation Sans","labelFontSize":40,"labelColor":"#000000","labelPadding":38,"labelBaseline":"alphabetic","labelFlush":false,"labelOverlap":false,"labelBound":false,"grid":false,"title":"PPM","titleFont":"Liberation Sans","titleFontSize":40,"titleFontWeight":"normal","titleColor":"#000000","titleAnchor":"end","titleAlign":"right","titleBaseline":"alphabetic","titleAngle":0,"titleX":3198,"titleY":61}},
   "y":{"field":"y","type":"quantitative","scale":{"domain":[-173.5,1255.3],"nice":false,"zero":false},"axis":null}
  }},
 {"data":{"name":"leaders"},
  "mark":{"type":"line","color":"#3a3a3a","strokeWidth":1.2},
  "encoding":{
   "x":{"field":"x","type":"quantitative","scale":{"domain":[-78.23,279.84],"reverse":true,"nice":false,"zero":false},"axis":null},
   "y":{"field":"y","type":"quantitative","scale":{"domain":[-173.5,1255.3],"nice":false,"zero":false},"axis":null},
   "detail":{"field":"t"},
   "order":{"field":"k","type":"quantitative"}
  }},
 {"data":{"name":"labels"},
  "mark":{"type":"text","angle":270,"align":"right","baseline":"middle","font":"Liberation Sans","fontSize":40,"color":"#000000"},
  "encoding":{
   "x":{"field":"lp","type":"quantitative","scale":{"domain":[-78.23,279.84],"reverse":true,"nice":false,"zero":false},
    "axis":{"orient":"bottom","values":[270,260,240,230,220,210,190,180,170,160,140,130,120,110,90,80,70,60,40,30,20,10,-10,-20,-30,-40,-60,-70],"offset":-241,"tickSize":16,"tickWidth":1.5,"tickColor":"#2b2d5c","domain":false,"labels":false,"grid":false,"title":null}},
   "y":{"datum":1252.9,"type":"quantitative","scale":{"domain":[-173.5,1255.3],"nice":false,"zero":false},"axis":null},
   "text":{"field":"t"}
  }}
 ],
 "resolve":{"axis":{"x":"independent"}}
},
{"layer":[
 {"data":{"name":"tlines"},
  "mark":{"type":"rule"},
  "encoding":{
   "x":{"field":"c1","type":"quantitative","scale":{"domain":[0,8],"nice":false,"zero":false},"axis":null},
   "x2":{"field":"c2"},
   "y":{"field":"r1","type":"quantitative","scale":{"domain":[-47.07,2],"reverse":true,"nice":false,"zero":false},"axis":null},
   "y2":{"field":"r2"},
   "color":{"field":"p","type":"nominal","scale":{"domain":["rule","div","frame"],"range":["#808080","#3c3c3c","#000000"]},"legend":null},
   "strokeWidth":{"field":"p","type":"nominal","scale":{"domain":["rule","div","frame"],"range":[2.5,1.3,1.3]},"legend":null}
  }},
 {"data":{"name":"ttext"},
  "mark":{"type":"text","align":"left","baseline":"alphabetic","font":"Liberation Serif","fontSize":42,"color":"#000000"},
  "encoding":{
   "x":{"field":"c","type":"quantitative","scale":{"domain":[0,8],"nice":false,"zero":false},"axis":null},
   "y":{"field":"r","type":"quantitative","scale":{"domain":[-47.07,2],"reverse":true,"nice":false,"zero":false},"axis":null},
   "text":{"field":"s"}
  }},
 {"data":{"values":[{"s":"USER:\u00a0 -- DATE: 01/27/22\u00a0 (12:32)"}]},
  "mark":{"type":"text","align":"right","baseline":"alphabetic","font":"Liberation Serif","fontSize":42,"color":"#000000"},
  "encoding":{
   "x":{"datum":7.905,"type":"quantitative","scale":{"domain":[0,8],"nice":false,"zero":false},"axis":null},
   "y":{"datum":-0.06,"type":"quantitative","scale":{"domain":[-47.07,2],"reverse":true,"nice":false,"zero":false},"axis":null},
   "text":{"field":"s"}
  }}
 ]
}
],
"resolve":{"scale":{"x":"independent","y":"independent"},"axis":{"x":"independent","y":"independent"}}
}
